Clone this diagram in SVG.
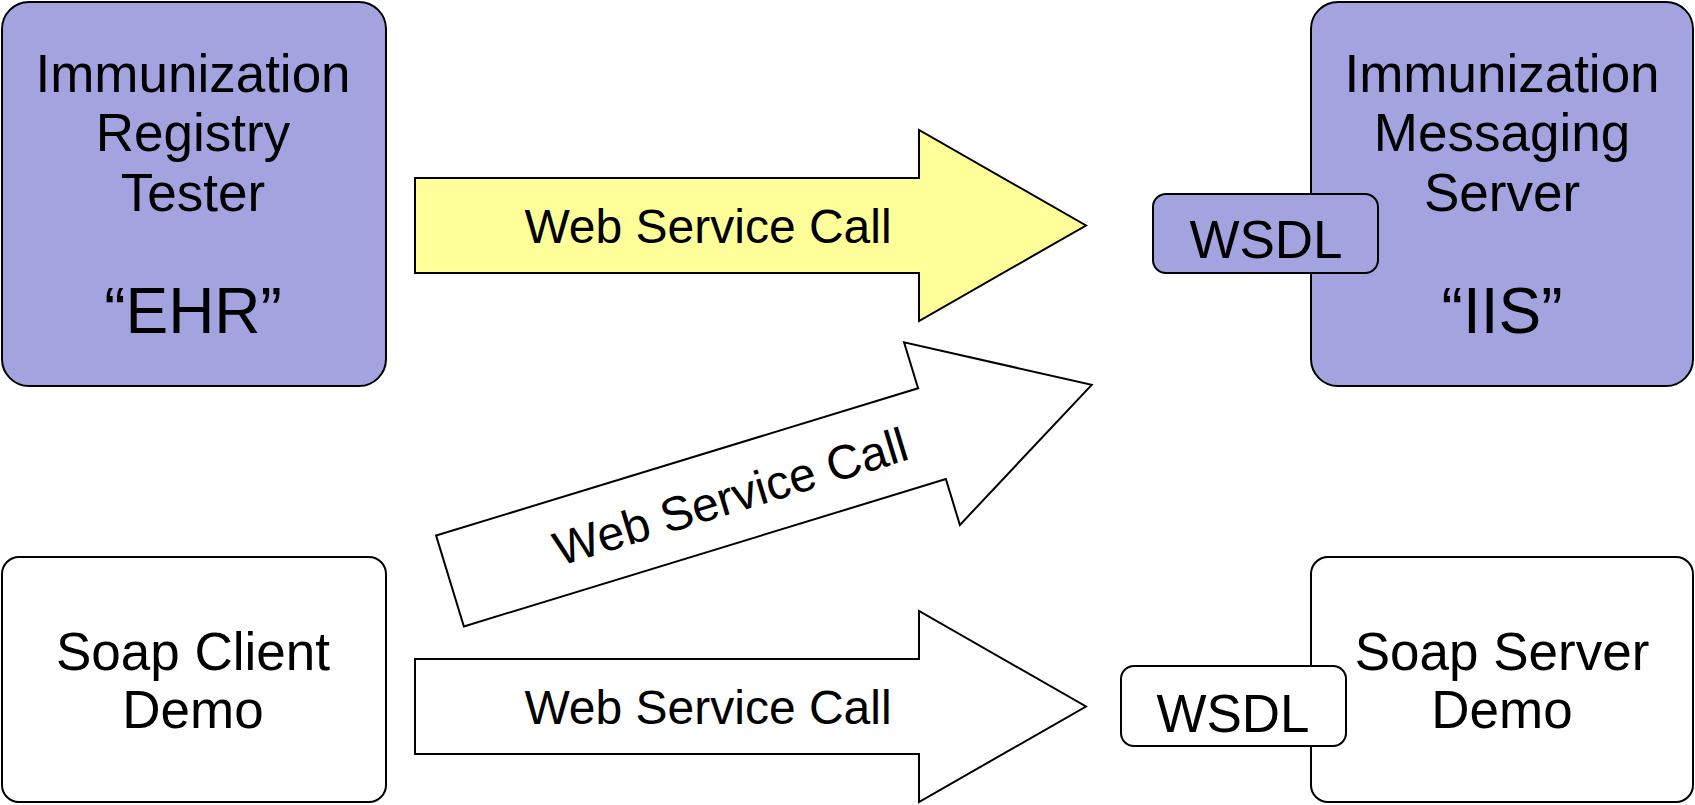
<svg xmlns="http://www.w3.org/2000/svg" width="1695" height="805" viewBox="0 0 1695 805">
<style>
.box{stroke:#000;stroke-width:2}
.p{fill:#a3a3e0}
.w{fill:#fff}
.arrow{stroke:#000;stroke-width:2}
.t{font-family:"Liberation Sans",Arial,sans-serif;fill:#000;text-anchor:middle}
.big{font-size:53px}
.q{font-size:64px}
.lbl{font-size:48px}
</style>
<defs>
<polygon id="arr" points="0,-47.5 504,-47.5 504,-95.5 671,0 504,95.5 504,47.5 0,47.5"/>
</defs>
<rect width="1695" height="805" fill="#fff"/>
<g id="connectors">
<g id="call-top">
<use href="#arr" x="415" y="225.5" class="arrow" fill="#ffff99"/>
<text class="t lbl" x="708" y="243">Web Service Call</text>
</g>
<g id="call-diag" transform="translate(450,581) rotate(-17)">
<use href="#arr" class="arrow" fill="#fff"/>
<text class="t lbl" x="293" y="18">Web Service Call</text>
</g>
<g id="call-bottom">
<use href="#arr" x="415" y="706.5" class="arrow" fill="#fff"/>
<text class="t lbl" x="708" y="724">Web Service Call</text>
</g>
</g>
<g id="ehr">
<rect class="box p" x="2" y="2" width="384" height="384" rx="27"/>
<text class="t big" x="193" y="92">Immunization</text>
<text class="t big" x="193" y="151">Registry</text>
<text class="t big" x="193" y="211">Tester</text>
<text class="t q" x="193" y="333">“EHR”</text>
</g>
<g id="iis">
<rect class="box p" x="1311" y="2" width="382" height="384" rx="27"/>
<text class="t big" x="1502" y="92">Immunization</text>
<text class="t big" x="1502" y="151">Messaging</text>
<text class="t big" x="1502" y="211">Server</text>
<text class="t q" x="1502" y="333">“IIS”</text>
</g>
<g id="wsdl-top">
<rect class="box p" x="1153" y="194" width="225" height="79" rx="13"/>
<text class="t big" x="1266" y="258">WSDL</text>
</g>
<g id="soap-client">
<rect class="box w" x="2" y="557" width="384" height="245" rx="17"/>
<text class="t big" x="193" y="670">Soap Client</text>
<text class="t big" x="193" y="728">Demo</text>
</g>
<g id="soap-server">
<rect class="box w" x="1311" y="557" width="382" height="245" rx="17"/>
<text class="t big" x="1502" y="670">Soap Server</text>
<text class="t big" x="1502" y="728">Demo</text>
</g>
<g id="wsdl-bottom">
<rect class="box w" x="1121" y="666" width="225" height="80" rx="13"/>
<text class="t big" x="1233" y="732">WSDL</text>
</g>
</svg>
